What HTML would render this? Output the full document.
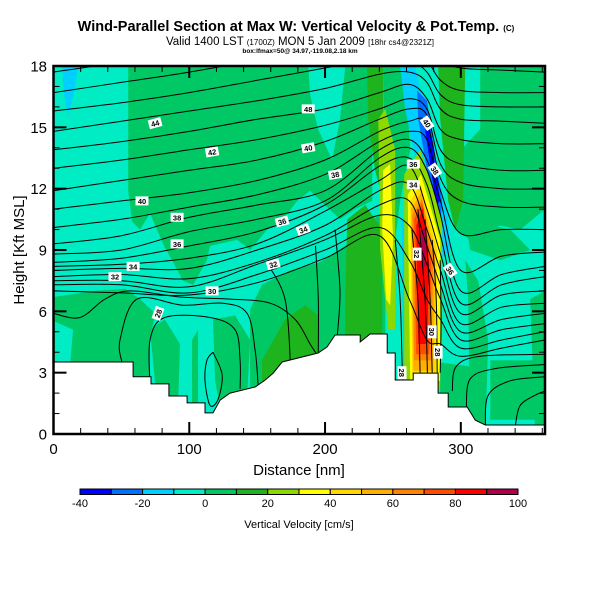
<!DOCTYPE html>
<html><head><meta charset="utf-8"><style>
html,body{margin:0;padding:0;background:#fff;}
svg{display:block;font-family:"Liberation Sans",sans-serif;}
</style></head><body>
<svg id="chart" width="600" height="600" viewBox="0 0 600 600" xmlns="http://www.w3.org/2000/svg">
<defs><clipPath id="plotclip"><rect x="53.5" y="66" width="491.5" height="368"/></clipPath></defs>
<text x="296" y="31" text-anchor="middle" font-size="14.5" font-weight="bold">Wind-Parallel Section at Max W: Vertical Velocity &amp; Pot.Temp. <tspan font-size="8">(C)</tspan></text>
<text x="300" y="45" text-anchor="middle" font-size="11.5">Valid 1400 LST <tspan font-size="8">(1700Z)</tspan> MON 5 Jan 2009 <tspan font-size="8">[18hr cs4@2321Z]</tspan></text>
<text x="300" y="53" text-anchor="middle" font-size="6.5" font-weight="bold">box:lfmax=50@ 34.97,-119.08,2.18 km</text>
<g id="field" clip-path="url(#plotclip)"></g>
<g id="contours" clip-path="url(#plotclip)"></g>
<g id="terrain" clip-path="url(#plotclip)"></g>
<g id="labels"></g>
<g id="axes"></g>
<g id="colorbar"></g>
<text x="299" y="475" text-anchor="middle" font-size="15">Distance [nm]</text>
<text transform="translate(24,250) rotate(-90)" text-anchor="middle" font-size="15">Height [Kft MSL]</text>
<text x="299" y="528" text-anchor="middle" font-size="11">Vertical Velocity [cm/s]</text>
</svg>
<script>
// ---- data ----
const xMax = 362;
const yMax = 18;
const xTicks = [0, 100, 200, 300];
const yTicks = [0, 3, 6, 9, 12, 15, 18];
const cbLevels = [-40,-30,-20,-10,0,10,20,30,40,50,60,70,80,90,100];
const cbTickLabels = [-40,-20,0,20,40,60,80,100];
const cbColors = ['#0000ff','#0070ff','#00d0ff','#00ecc4','#00c864','#1eb41e','#8cd800','#ffff00','#ffd800','#ffb000','#ff8400','#ff4c00','#ff0000','#b0004c'];
const backgroundValue = -5;
// vertical velocity regions (value in cm/s, vertices [nm, kft])
const regionValues = [5,-5,-15,5,-5,5,5,5,5,15,15,15,5,5,15,5,25,35,-15,-15,-25,-35,25,35,45,55,65,75,85,95,5,5,5,5];
const regionShapes = [
 [[55,18],[234.7,18],[234.7,11.4],[222,11],[211,10.5],[189,11.9],[179.5,11.4],[169.1,10.5],[157.3,10],[144.8,9],[135.2,9.5],[115.3,9.2],[113,8.5],[102.8,7.3],[95.4,7.5],[80.7,9.3],[71.1,10.8],[63.7,10],[57.9,10.4],[55,11.9]],
 [[187.6,18],[214.9,18],[211.1,15.4],[205.2,13.4],[194.9,14.9],[189,16.6]],
 [[6.3,18],[18.1,18],[15.1,16.6],[10.7,15.6],[7.7,16.6]],
 [[0,6.7],[30.6,7.0],[52.7,7.1],[63.7,6.6],[74.8,5.9],[71.1,4.6],[71.1,0],[0,0]],
 [[1.1,5.5],[14.4,5.1],[12.2,3.4],[1.1,3.4]],
 [[71.1,5.1],[82,5.6],[93.2,4.4],[91,0],[78.5,0]],
 [[102,4.6],[106.5,5.1],[106.5,0],[102,0]],
 [[117.5,5.6],[133.7,5.8],[144.8,4.6],[141.1,0],[126.3,0],[119,2.6]],
 [[144.8,6.1],[153.6,7.3],[174.3,8.0],[196.4,8.4],[214.9,9.2],[229.6,10.1],[239.2,10.7],[244.4,10.7],[244.4,0],[144.8,0]],
 [[231,18],[242.8,18],[242.8,11.4],[236.9,12.9],[231.7,15.4]],
 [[216.3,10.5],[229.6,11.2],[242.1,10],[242.1,0],[214.9,0],[214.9,6.6]],
 [[153.6,3.6],[170.5,5.6],[185.3,6.3],[194.9,5.8],[194.9,0],[153.6,0]],
 [[242.8,18],[259,18],[262.7,13.9],[255.3,11.4],[251.7,9.5],[244.4,11.4]],
 [[300.3,13.9],[314.3,14.9],[314.3,18],[362,18],[362,11],[343.7,10],[329,10.2],[306.9,9.5],[295.8,10]],
 [[283.3,18],[303.2,18],[301.7,11.4],[295.8,10],[290.7,11.4],[284.8,15.4]],
 [[303.2,10.5],[336.4,10],[351.1,9],[329,8.5],[306.9,9]],
 [[239.2,15.4],[244.4,15.9],[251.7,13.9],[251.7,5.1],[246.6,5.1],[240.6,9]],
 [[242.8,12.9],[247.9,13.2],[250.1,9.5],[247.9,6.3],[245,6.6],[242.1,10]],
 [[256.5,10.5],[261,10.5],[262.7,2.6],[257.8,2.6]],
 [[255.3,18],[266.4,18],[290.7,10.5],[292.2,9],[284.8,8.5],[277.4,10],[259,15.9]],
 [[267.8,16.8],[275.2,16.3],[286.2,11.4],[284.8,10],[279,11.4],[268.6,15.4]],
 [[273.6,14.9],[277.4,14.9],[284.8,11.4],[281.9,11.2]],
 [[258.3,12.7],[270,13.9],[286.2,10.5],[286.2,2.2],[258.3,2.2]],
 [[260.9,11.7],[270.7,12.7],[284.8,9.5],[284.8,2.6],[262.7,2.6]],
 [[262.7,11.4],[270.7,12.2],[282.6,9],[281.9,2.9],[264.2,2.9]],
 [[263.4,11],[270.7,11.8],[281.1,8.8],[279.7,3.1],[265,3.1]],
 [[264.2,10.7],[271.5,11.5],[279.7,8.5],[278.2,3.6],[265.6,3.6]],
 [[265.6,10.5],[271.5,11.3],[278.2,8.4],[276.7,3.9],[267.1,3.9]],
 [[267.1,10.2],[272.2,11.1],[276.7,8.3],[275.2,4.4],[268.6,4.4]],
 [[270.7,10],[273.6,10.1],[274.5,8.3],[271.5,8]],
 [[303.2,8.5],[312.8,7.5],[320.2,4.6],[318,0],[306.9,0],[305.4,6.6]],
 [[351.1,6.6],[362,7],[362,0],[354.8,0]],
 [[321.7,3.6],[358.5,3.6],[362,0.7],[321.7,0.7]],
 [[284.8,3.5],[306.9,3.3],[306.9,1.0],[284.8,1.0]]
];
// potential temperature lines: kft at thetaX (nm)
const thetaX = [0, 50, 100, 150, 200, 240, 262, 275, 285, 300, 330, 362];
const thetaLines = [
 [17.7,18.2,18.8,19.4,20,20.5,20.3,19.3,18.3,17.9,17.8,17.7],
 [16.7,17.2,17.7,18.3,18.9,19.3,19.0,18.3,17.3,16.8,16.7,16.7],
 [15.8,16.2,16.7,17.3,17.9,18.4,18.3,17.7,16.6,16.1,16.0,16.0],
 [14.8,15.3,15.8,16.3,16.9,17.6,17.7,17.2,15.9,15.4,15.3,15.2],
 [13.9,14.3,14.8,15.4,15.9,16.7,17.1,16.4,14.9,14.4,14.2,14.2],
 [13.0,13.4,13.9,14.4,15.1,15.9,16.4,15.9,13.9,13.2,12.9,12.9],
 [11.9,12.4,12.9,13.4,14.3,15.4,15.9,15.6,13.2,12.3,12.0,12.0],
 [11.0,11.4,11.8,12.4,13.4,14.8,15.3,15.2,12.5,11.4,11.1,11.1],
 [10.1,10.5,11.1,11.7,12.7,14.3,14.8,14.4,11.9,9.8,10.0,10.0],
 [9.3,9.7,10.6,11.2,11.9,13.9,14.4,13.4,11.4,8.0,8.7,8.9],
 [8.8,9.0,9.9,10.5,11.4,13.5,14.0,12.9,10.7,7.0,7.8,8.2],
 [8.4,8.6,9.2,9.9,11.2,13.1,13.5,12.2,9.7,6.4,7.3,7.7],
 [8.2,8.3,8.6,9.3,10.9,12.4,13.1,11.0,8.8,5.9,6.8,7.0],
 [8.0,8.1,8.1,9.0,10.2,11.9,12.2,10.0,8.0,5.4,6.2,6.4],
 [7.7,7.8,7.6,8.4,9.7,11.2,11.4,9.2,7.3,5.0,5.6,5.9],
 [7.5,7.5,7.2,8.3,9.5,10.7,10.2,8.3,6.6,4.6,5.1,5.4],
 [7.3,7.3,6.9,7.8,9.0,10.1,8.5,6.6,5.6,4.2,4.6,5.0],
 [7.0,6.9,6.8,7.4,8.6,9.7,6.6,4.6,4.4,3.8,4.2,4.6]
];
// other contour segments [nm, kft]
const extraContours = [
 [[251.7,9.5],[255.3,6.6],[256.7,3.6],[257.4,2.6]],
 [[264,10],[268.4,6.6],[270,3.0]],
 [[268.4,11],[273.6,6.6],[275.4,3.0]],
 [[273.6,10.5],[277.4,6.6],[278.9,3.0]],
 [[278.9,9.5],[281.9,6.6],[282.6,3.0]],
 [[284.8,8.5],[285.5,5.6],[284.8,3.0]],
 [[293.7,2.1],[296.6,3.3],[314.3,3.8],[362,3.9]],
 [[304,1.3],[306.9,2.7],[325.3,3.2],[362,3.4]],
 [[318,0.4],[320.2,1.9],[336.4,2.6],[362,2.8]],
 [[340.1,0.4],[343.7,1.4],[354.8,1.9],[362,2.1]],
 [[0,5.9],[19.5,5.7],[38,6.6],[56.4,7.0],[93.2,6.7],[130,6.6],[159.5,6.4],[178,5.6],[189,4.4],[194.9,3.8]],
 [[50.4,3.5],[49,4.6],[61.5,6.6],[95.4,6.3],[124.9,6.4],[142.6,5.9],[148.5,4.1],[150.7,2.4]],
 [[71.1,2.4],[71.1,4.6],[82,5.7],[115.3,5.7],[133.7,5.1],[137.4,3.6],[137.4,2.2]],
 [[117.5,4.0],[124.2,2.9],[121.2,1.7],[115.3,1.4],[111.6,2.6],[113,3.6],[117.5,4.0]],
 [[158,8.3],[170.5,6.6],[174.3,3.6],[172.8,3.1]],
 [[193,9.2],[195,6.6],[195,4.0]],
 [[207.4,10.0],[211,7.0],[209,4.8]]
];
// terrain profile vertices [nm, kft]
const terrainX = [0,45.3,45.3,58.6,58.6,71.8,71.8,85,85,98.4,98.4,111.6,111.6,117.5,122.7,130,148.5,155.9,161.8,168.4,194.9,201.5,207.4,225.9,225.9,233.2,245.8,245.8,251.7,251.7,264.9,264.9,283.3,283.3,290.7,290.7,304.7,310.6,318,362];
const terrainH = [3.52,3.52,3.52,3.52,2.8,2.8,2.45,2.45,1.86,1.86,1.52,1.52,1.03,1.03,1.66,2.0,2.3,2.64,2.98,3.52,3.96,4.26,4.84,4.84,4.5,4.89,4.89,3.96,3.96,2.64,2.64,2.98,2.98,2.0,2.0,1.32,1.32,0.68,0.44,0.44];
// contour labels
const labelText = ['44','40','38','36','34','32','30','28','36','34','32','42','40','38','48','36','34','40','38','32','30','28','28','36'];
const labelNm = [74.8,65.2,91,91,58.6,45.3,116.8,77,168.4,183.9,161.8,116.8,187.6,207.4,187.6,265,265,275.2,281,267.8,278.9,283.3,256.7,292.2];
const labelKft = [15.2,11.4,10.6,9.3,8.2,7.7,7.0,5.9,10.4,10.0,8.3,13.8,14.0,12.7,15.9,13.2,12.2,15.2,12.9,8.8,5.0,4.0,3.0,8.0];
const labelAngle = [-15,0,0,0,0,0,0,-70,-15,-20,-15,-10,-10,-10,0,0,0,55,55,90,90,90,90,55];

// ---- scales ----
const PX0 = 53.5, PX1 = 545, PY0 = 434, PY1 = 66;
const X = v => PX0 + v / xMax * (PX1 - PX0);
const Y = v => PY0 - v / yMax * (PY0 - PY1);
const NS = 'http://www.w3.org/2000/svg';
function mk(tag, attrs, parent) { const e = document.createElementNS(NS, tag); for (const k in attrs) e.setAttribute(k, attrs[k]); parent.appendChild(e); return e; }
function colorFor(v) { for (let i = 0; i < cbColors.length; i++) if (v >= cbLevels[i] && v < cbLevels[i+1]) return cbColors[i]; return cbColors[cbColors.length-1]; }
function smoothPath(pts) {
  let d = 'M' + pts[0][0].toFixed(1) + ',' + pts[0][1].toFixed(1);
  for (let i = 0; i < pts.length - 1; i++) {
    const p0 = pts[Math.max(0,i-1)], p1 = pts[i], p2 = pts[i+1], p3 = pts[Math.min(pts.length-1,i+2)];
    const c1 = [p1[0] + (p2[0]-p0[0])/6, p1[1] + (p2[1]-p0[1])/6];
    const c2 = [p2[0] - (p3[0]-p1[0])/6, p2[1] - (p3[1]-p1[1])/6];
    d += 'C' + c1[0].toFixed(1) + ',' + c1[1].toFixed(1) + ' ' + c2[0].toFixed(1) + ',' + c2[1].toFixed(1) + ' ' + p2[0].toFixed(1) + ',' + p2[1].toFixed(1);
  }
  return d;
}
const field = document.getElementById('field');
const bg = mk('rect', {x: X(0), y: Y(yMax), width: X(xMax)-X(0), height: Y(0)-Y(yMax), fill: colorFor(backgroundValue)}, field);


regionShapes.forEach((shape, i) => {
  const p = mk('polygon', {points: shape.map(q => X(q[0]).toFixed(1) + ',' + Y(q[1]).toFixed(1)).join(' '), fill: colorFor(regionValues[i])}, field);
  
  
});
const cont = document.getElementById('contours');
thetaLines.forEach(line => {
  const pts = line.map((k, j) => [X(thetaX[j]), Y(k)]);
  const p = mk('path', {d: smoothPath(pts), fill: 'none', stroke: '#000', 'stroke-width': 1}, cont);
  
  
});
extraContours.forEach(seg => {
  const pts = seg.map(q => [X(q[0]), Y(q[1])]);
  const p = mk('path', {d: smoothPath(pts), fill: 'none', stroke: '#000', 'stroke-width': 1}, cont);
  
  
});
const ter = document.getElementById('terrain');
let tp = terrainX.map((x, i) => X(x).toFixed(1) + ',' + Y(terrainH[i]).toFixed(1)).join(' ');
tp += ' ' + X(xMax) + ',' + Y(0) + ' ' + X(0) + ',' + Y(0);
const terr = mk('polygon', {points: tp, fill: '#fff', stroke: '#000', 'stroke-width': 1}, ter);


const lab = document.getElementById('labels');
labelText.forEach((t, i) => {
  const g = mk('g', {transform: 'translate(' + X(labelNm[i]).toFixed(1) + ',' + Y(labelKft[i]).toFixed(1) + ') rotate(' + labelAngle[i] + ')'}, lab);
  
  
  mk('rect', {x: -6.5, y: -4.5, width: 13, height: 9, fill: '#fff'}, g);
  const tx = mk('text', {x: 0, y: 3, 'text-anchor': 'middle', 'font-size': 7.5, 'font-weight': 'bold'}, g);
  tx.textContent = t;
});
const ax = document.getElementById('axes');
for (let v = 0; v <= xMax; v += 20) {
  const major = v % 100 === 0;
  const L = major ? 12 : 6;
  mk('line', {x1: X(v), x2: X(v), y1: PY0, y2: PY0 - L, stroke: '#000', 'stroke-width': major ? 2 : 1}, ax);
  mk('line', {x1: X(v), x2: X(v), y1: PY1, y2: PY1 + L, stroke: '#000', 'stroke-width': major ? 2 : 1}, ax);
}
xTicks.forEach(v => {
  const t = mk('text', {x: X(v), y: 454, 'text-anchor': 'middle', 'font-size': 15}, ax);
  t.textContent = v;
  
  
});
for (let v = 0; v <= yMax; v += 1) {
  const major = v % 3 === 0;
  const L = major ? 13 : 6;
  mk('line', {x1: PX0, x2: PX0 + L, y1: Y(v), y2: Y(v), stroke: '#000', 'stroke-width': major ? 2 : 1}, ax);
  mk('line', {x1: PX1, x2: PX1 - L, y1: Y(v), y2: Y(v), stroke: '#000', 'stroke-width': major ? 2 : 1}, ax);
}
yTicks.forEach(v => {
  const t = mk('text', {x: 47, y: Y(v) + 5.5, 'text-anchor': 'end', 'font-size': 15}, ax);
  t.textContent = v;
  
  
});
const frame = mk('rect', {x: PX0, y: PY1, width: PX1 - PX0, height: PY0 - PY1, fill: 'none', stroke: '#000', 'stroke-width': 2.5}, ax);


const cb = document.getElementById('colorbar');
const CB0 = 80, CB1 = 518;
const CBX = v => CB0 + (v - cbLevels[0]) / (cbLevels[cbLevels.length-1] - cbLevels[0]) * (CB1 - CB0);
cbColors.forEach((c, i) => {
  const r = mk('rect', {x: CBX(cbLevels[i]), y: 489, width: CBX(cbLevels[i+1]) - CBX(cbLevels[i]), height: 5.5, fill: c, stroke: '#000', 'stroke-width': 1}, cb);
  
  
});
cbTickLabels.forEach(v => {
  const t = mk('text', {x: CBX(v), y: 507, 'text-anchor': 'middle', 'font-size': 11}, cb);
  t.textContent = v;
  
  
});
</script>
</body></html>
